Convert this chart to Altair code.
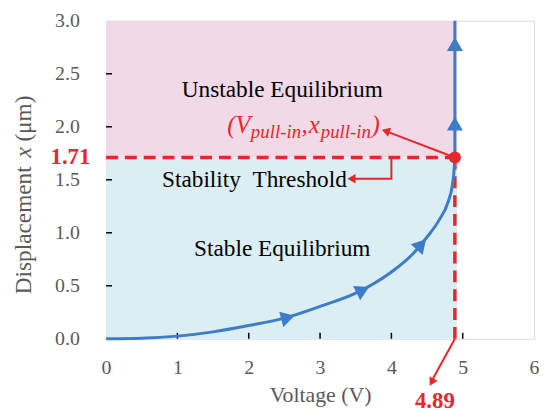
import altair as alt
import pandas as pd

# ---- data ----
volt = [0.0, 0.5, 1.0, 1.5, 2.0, 2.5, 3.0, 3.5, 4.0, 4.3, 4.5, 4.66, 4.8, 4.85, 4.875, 4.89]
disp = [0.0, 0.005, 0.025, 0.065, 0.125, 0.195, 0.305, 0.43, 0.63, 0.80, 0.96, 1.11, 1.30, 1.43, 1.56, 1.71]
v_pull = 4.89
x_pull = 1.71
y_top = 3.0
region_right = 4.92

arrow_v = [2.55, 3.6, 4.42, 4.89, 4.89]
arrow_x = [0.20, 0.46, 0.89, 2.03, 2.78]
arrow_angle = [75, 64, 42, 0, 0]

x_ticks = [0, 1, 2, 3, 4, 5, 6]
y_ticks = [0.0, 0.5, 1.0, 1.5, 2.0, 2.5, 3.0]
x_inner_ticks = [1, 2, 3, 4, 5]
y_inner_ticks = [0.5, 1.0, 1.5, 2.0, 2.5]

BLUE = "#3d7cc9"
RED = "#e8262b"
PINK = "#f1d9e7"
LBLUE = "#daeef3"
GRAY = "#595959"
FONT = "Liberation Serif"

W, H = 432, 321

xs = alt.Scale(domain=[0, 6], nice=False, zero=False)
ys = alt.Scale(domain=[0, 3], nice=False, zero=False)

X_AXIS = alt.Axis(values=x_ticks, format="d", ticks=False, domain=False, grid=False,
                  labelFont=FONT, labelFontSize=20, labelColor=GRAY, labelPadding=19,
                  labelFlush=False, titleFont=FONT, titleFontSize=22, titleColor=GRAY,
                  titleFontWeight="normal", titlePadding=7)
Y_AXIS = alt.Axis(values=y_ticks, format=".1f", ticks=False, domain=False, grid=False,
                  labelFont=FONT, labelFontSize=20, labelColor=GRAY, labelPadding=27,
                  labelFlush=False)


def X(f):
    return alt.X(f, type="quantitative", scale=xs, axis=X_AXIS, title="Voltage (V)")


def Y(f):
    return alt.Y(f, type="quantitative", scale=ys, axis=Y_AXIS, title="")


regions_df = pd.DataFrame({
    "x0": [0, 0], "x1": [region_right, region_right],
    "y0": [x_pull, 0], "y1": [y_top, x_pull], "c": [PINK, LBLUE]})

regions = alt.Chart(regions_df).mark_rect().encode(
    x=X("x0"), x2="x1", y=Y("y0"), y2="y1",
    color=alt.Color("c:N", scale=None),
)

# inward ticks
xt = alt.Chart(pd.DataFrame({"t": x_inner_ticks})).mark_rule(color="black", strokeWidth=1.5).encode(
    x=X("t"), y=alt.value(H), y2=alt.value(H - 6))
yt = alt.Chart(pd.DataFrame({"t": y_inner_ticks})).mark_rule(color="black", strokeWidth=1.5).encode(
    y=Y("t"), x=alt.value(0), x2=alt.value(6))

# red dashed threshold lines
dash_df = pd.DataFrame({"x0": [0, v_pull], "x1": [v_pull, v_pull],
                        "y0": [x_pull, 0], "y1": [x_pull, x_pull]})
dashes = alt.Chart(dash_df).mark_rule(color=RED, strokeWidth=3.5, strokeDash=[12, 7]).encode(
    x=X("x0"), x2="x1", y=Y("y0"), y2="y1")

# blue curve
curve = alt.Chart(pd.DataFrame({"v": volt, "d": disp})).mark_line(
    color=BLUE, strokeWidth=3, interpolate="monotone").encode(x=X("v"), y=Y("d"))
vline = alt.Chart(pd.DataFrame({"v": [v_pull], "a": [x_pull], "b": [y_top]})).mark_rule(
    color=BLUE, strokeWidth=3).encode(x=X("v"), y=Y("a"), y2="b")

heads = alt.Chart(pd.DataFrame({"v": arrow_v, "d": arrow_x, "a": arrow_angle})).mark_point(
    shape="triangle-up", filled=True, size=260, color=BLUE, opacity=1).encode(
    x=X("v"), y=Y("d"), angle=alt.Angle("a:Q", scale=None))

dot = alt.Chart(pd.DataFrame({"v": [v_pull], "d": [x_pull]})).mark_circle(
    size=150, color=RED, opacity=1).encode(x=X("v"), y=Y("d"))

# red annotation leaders
lead_df = pd.DataFrame({
    "g": [0, 0, 1, 1, 1, 2, 2],
    "o": [0, 1, 0, 1, 2, 0, 1],
    "x": [v_pull, 3.94, 4.0, 4.0, 3.47, v_pull, 4.58],
    "y": [x_pull, 1.955, x_pull, 1.51, 1.51, 0.0, -0.38]})
leads = alt.Chart(lead_df).mark_line(color=RED, strokeWidth=2).encode(
    x=X("x"), y=Y("y"), detail="g:N", order="o:Q")
lhead_df = pd.DataFrame({"x": [3.92, 3.44, 4.565], "y": [1.96, 1.51, -0.41], "a": [288, 270, 208]})
lheads = alt.Chart(lhead_df).mark_point(
    shape="triangle-up", filled=True, size=90, color=RED, opacity=1).encode(
    x=X("x"), y=Y("y"), angle=alt.Angle("a:Q", scale=None))

# labels
lab_df = pd.DataFrame({"t": ["Unstable Equilibrium", "Stability\u00a0\u00a0Threshold", "Stable Equilibrium"],
                       "x": [2.47, 2.08, 2.47], "y": [2.35, 1.50, 0.85]})
labels = alt.Chart(lab_df).mark_text(font=FONT, fontSize=23.5, color="black").encode(
    x=X("x"), y=Y("y"), text="t:N")

main_df = pd.DataFrame({"t": ["(V", ",", "x", ")"], "x": [1.70, 2.74, 2.84, 3.72],
                        "y": [1.94, 1.94, 1.94, 1.94]})
pull_main = alt.Chart(main_df).mark_text(font=FONT, fontSize=25, fontStyle="italic", color=RED,
                                          align="left", baseline="alphabetic").encode(
    x=X("x"), y=Y("y"), text="t:N")
sub_df = pd.DataFrame({"t": ["pull-in", "pull-in"], "x": [2.03, 3.01], "y": [1.895, 1.895]})
pull_sub = alt.Chart(sub_df).mark_text(font=FONT, fontSize=19, fontStyle="italic", color=RED,
                                        align="left", baseline="alphabetic").encode(
    x=X("x"), y=Y("y"), text="t:N")

num1 = alt.Chart(pd.DataFrame({"t": ["1.71"], "x": [-0.22], "y": [x_pull]})).mark_text(
    font=FONT, fontSize=23, fontWeight="bold", color=RED, align="right", baseline="middle").encode(
    x=X("x"), y=Y("y"), text="t:N")
num2 = alt.Chart(pd.DataFrame({"t": ["4.89"], "x": [4.61], "y": [-0.585]})).mark_text(
    font=FONT, fontSize=23, fontWeight="bold", color=RED, align="center", baseline="middle").encode(
    x=X("x"), y=Y("y"), text="t:N")

# y-axis title with italic x
yt_df = pd.DataFrame({"t": ["Displacement", "(\u03bcm)"], "x": [-1.15, -1.15], "y": [0.42, 1.86]})
ytitle = alt.Chart(yt_df).mark_text(font=FONT, fontSize=23.5, color=GRAY, angle=270,
                                    align="left", baseline="middle").encode(
    x=X("x"), y=Y("y"), text="t:N")
ytx = alt.Chart(pd.DataFrame({"t": ["x"], "x": [-1.15], "y": [1.71]})).mark_text(
    font=FONT, fontSize=23.5, fontStyle="italic", color=GRAY, angle=270,
    align="left", baseline="middle").encode(x=X("x"), y=Y("y"), text="t:N")

chart = alt.layer(
    regions, xt, yt, dashes, curve, vline, heads, leads, lheads, dot,
    labels, pull_main, pull_sub, num1, num2, ytitle, ytx
).properties(
    width=W, height=H,
    autosize=alt.AutoSizeParams(type="none"),
    padding={"left": 99, "top": 11, "right": 5, "bottom": 72},
).configure_view(stroke="black", strokeWidth=1.5).configure(background="white")

chart.save("out.html", embed_options={"renderer": "svg", "actions": False})
